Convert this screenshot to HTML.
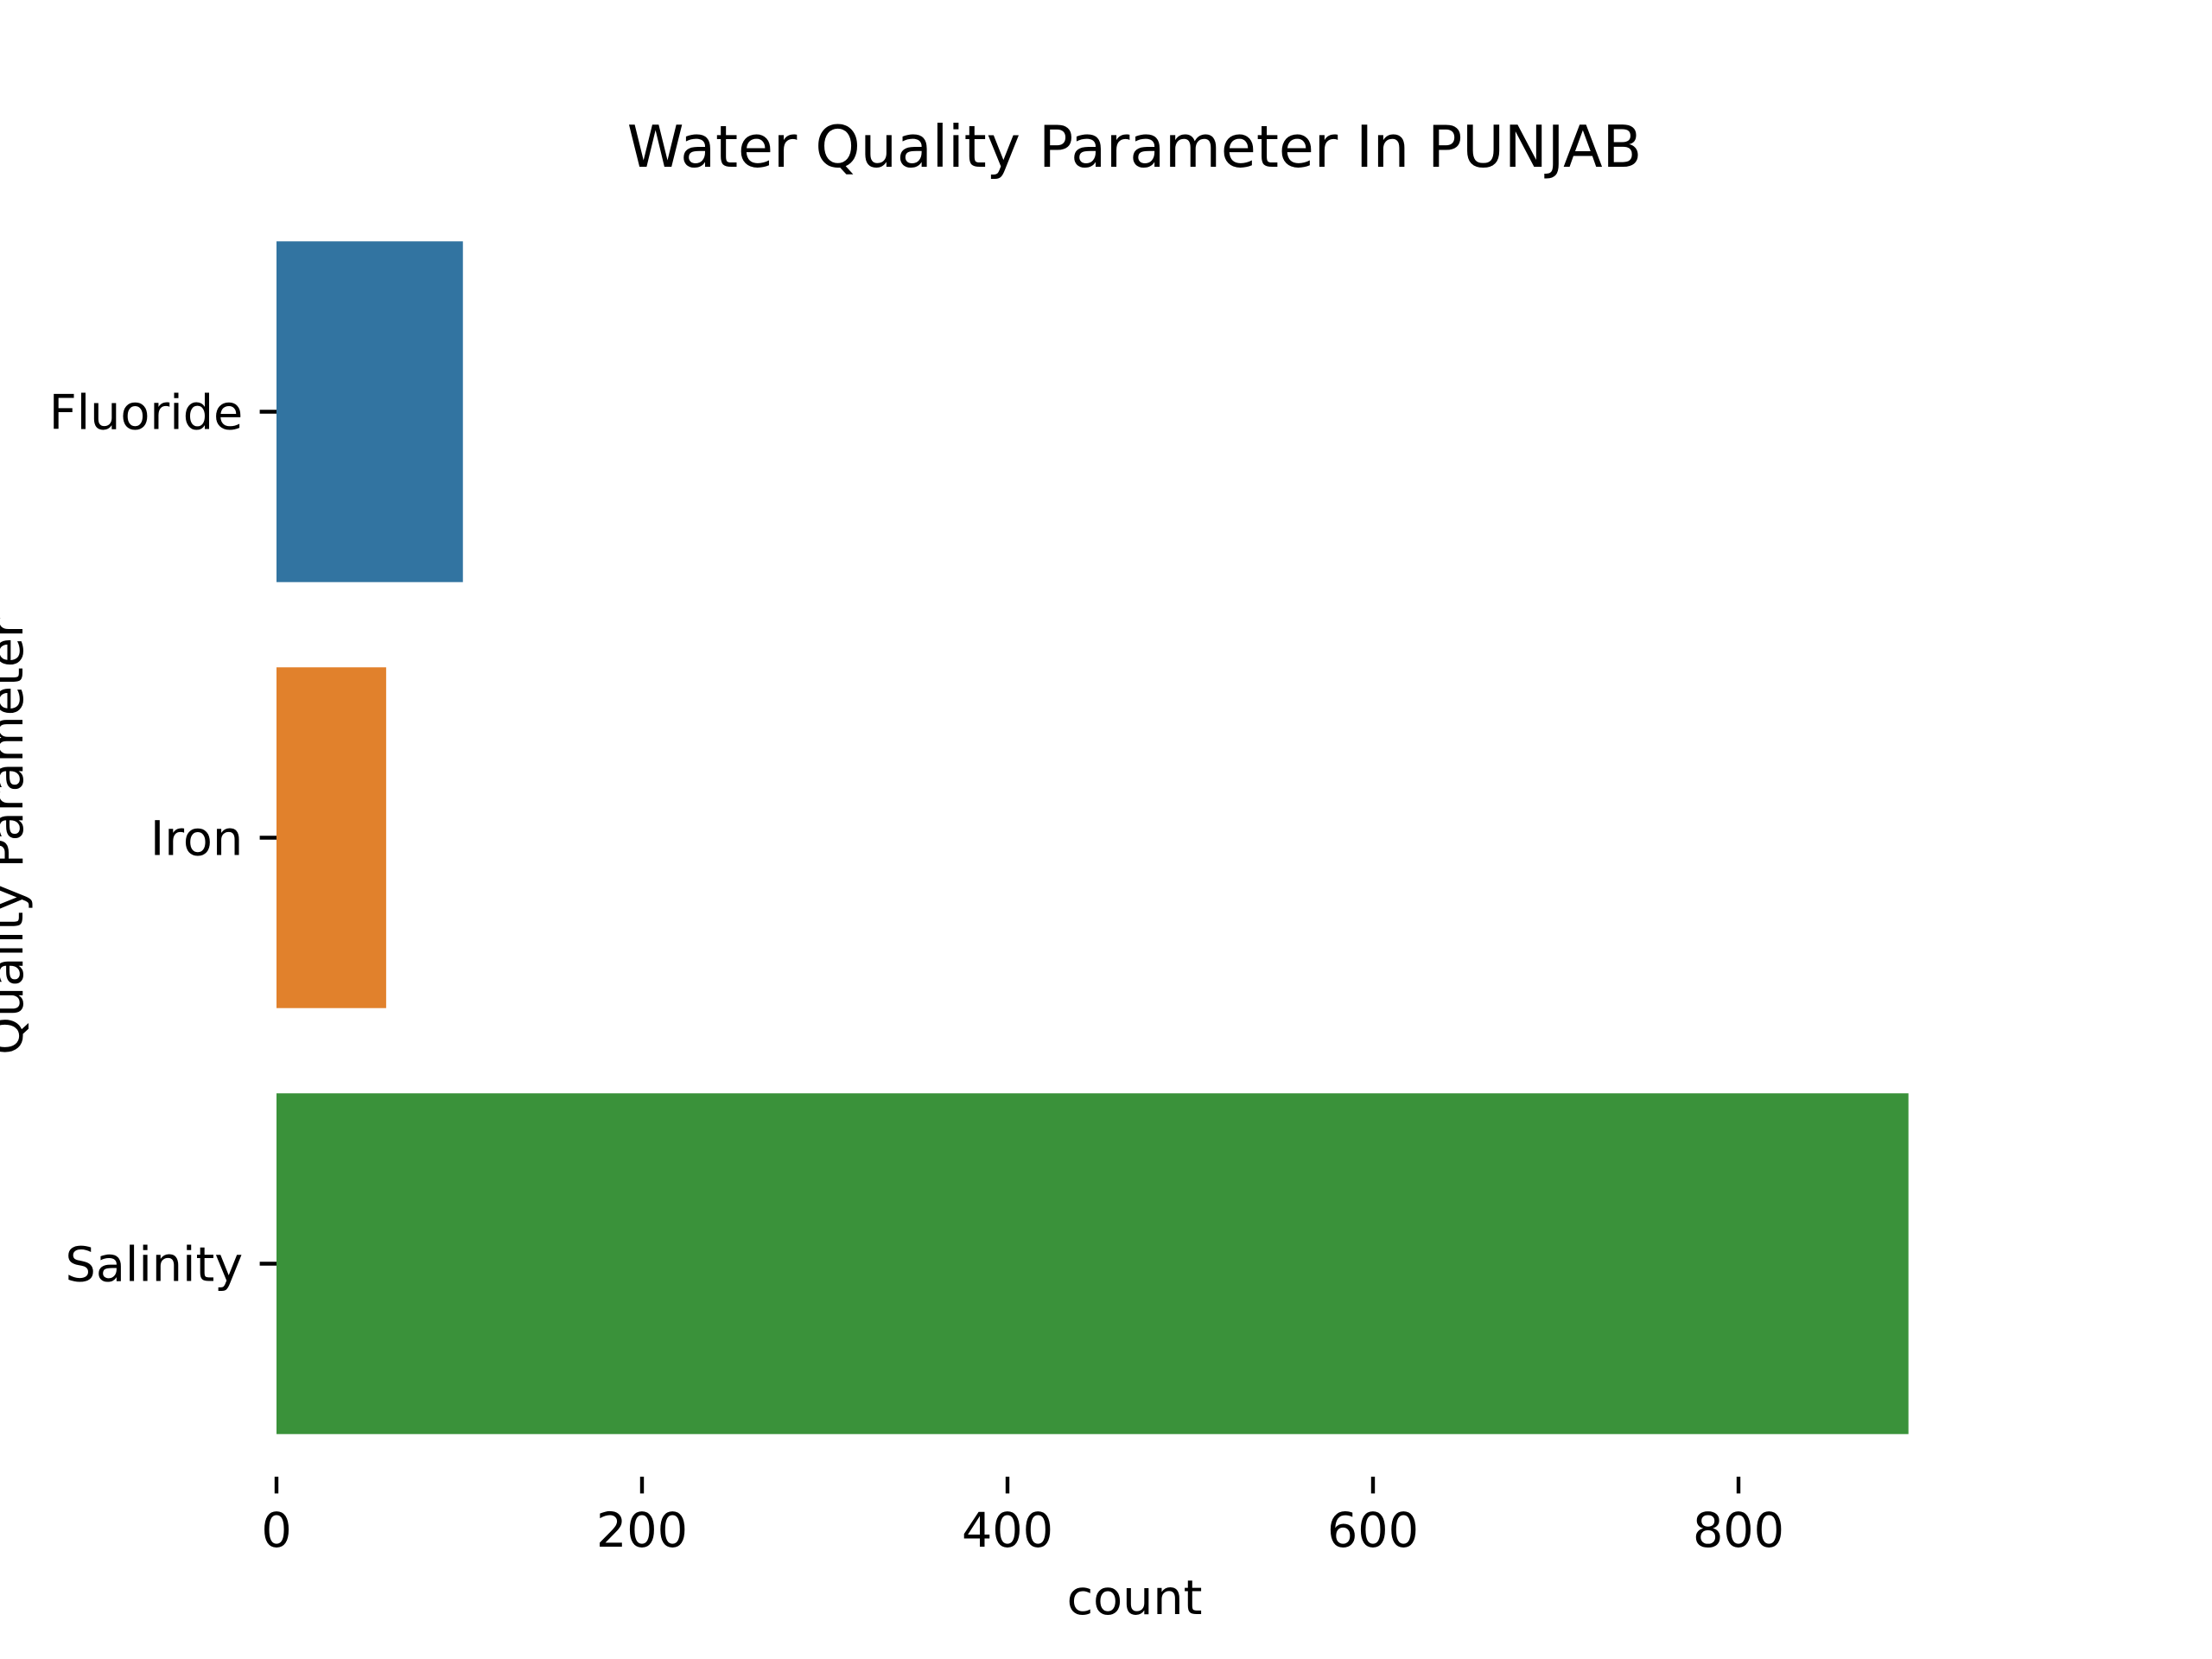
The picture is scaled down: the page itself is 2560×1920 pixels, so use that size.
<!DOCTYPE html>
<html><head><meta charset="utf-8"><style>
html,body{margin:0;padding:0;background:#fff;}
svg{display:block;font-family:"DejaVu Sans","Liberation Sans",sans-serif;}
</style></head><body>
<svg id="chart" width="2560" height="1920" viewBox="0 0 2560 1920">
<text x="1313" y="193" font-size="66.5" text-anchor="middle">Water Quality Parameter In PUNJAB</text>
<text x="0" y="0" font-size="55.6" text-anchor="middle" transform="translate(26,968) rotate(-90)">Quality Parameter</text>
<text x="1313" y="1868" font-size="55.6" text-anchor="middle">count</text>
<g id="bars"></g><g id="xticks"></g><g id="yticks"></g>
</svg>
<script>
const categories = ["Fluoride", "Iron", "Salinity"];
const counts = [102, 60, 893];
const colors = ["#3274a1", "#e1812c", "#3a923a"];
const xTicks = [0, 200, 400, 600, 800];
const plotLeft = 320, plotTop = 230, plotBottom = 1709, unitPx = 2.115;
const bandH = (plotBottom - plotTop) / categories.length;
function xs(v){ return plotLeft + v * unitPx; }
function ys(i){ return plotTop + bandH * (i + 0.5); }
const NS = "http://www.w3.org/2000/svg";
function mk(tag, attrs, parent){ const e = document.createElementNS(NS, tag); for (const k in attrs) e.setAttribute(k, attrs[k]); parent.appendChild(e); return e; }
const gb = document.getElementById("bars"), gx = document.getElementById("xticks"), gy = document.getElementById("yticks");
categories.forEach((c, i) => {
  const h = bandH * 0.8;
  const r = mk("rect", {x: xs(0), y: ys(i) - h/2, width: xs(counts[i]) - xs(0), height: h, fill: colors[i]}, gb);
  
  
  const t = mk("line", {x1: plotLeft, x2: plotLeft - 19.4, y1: ys(i), y2: ys(i), stroke: "#000", "stroke-width": 4.4}, gy);
  
  
  const l = mk("text", {x: plotLeft - 38.8, y: ys(i) + 20, "font-size": 55.6, "text-anchor": "end"}, gy);
  l.textContent = c;
  
  
});
xTicks.forEach(v => {
  const t = mk("line", {x1: xs(v), x2: xs(v), y1: plotBottom, y2: plotBottom + 19.4, stroke: "#000", "stroke-width": 4.4}, gx);
  
  
  const l = mk("text", {x: xs(v), y: plotBottom + 38.8 + 42, "font-size": 55.6, "text-anchor": "middle"}, gx);
  l.textContent = v;
  
  
});
</script>
</body></html>
